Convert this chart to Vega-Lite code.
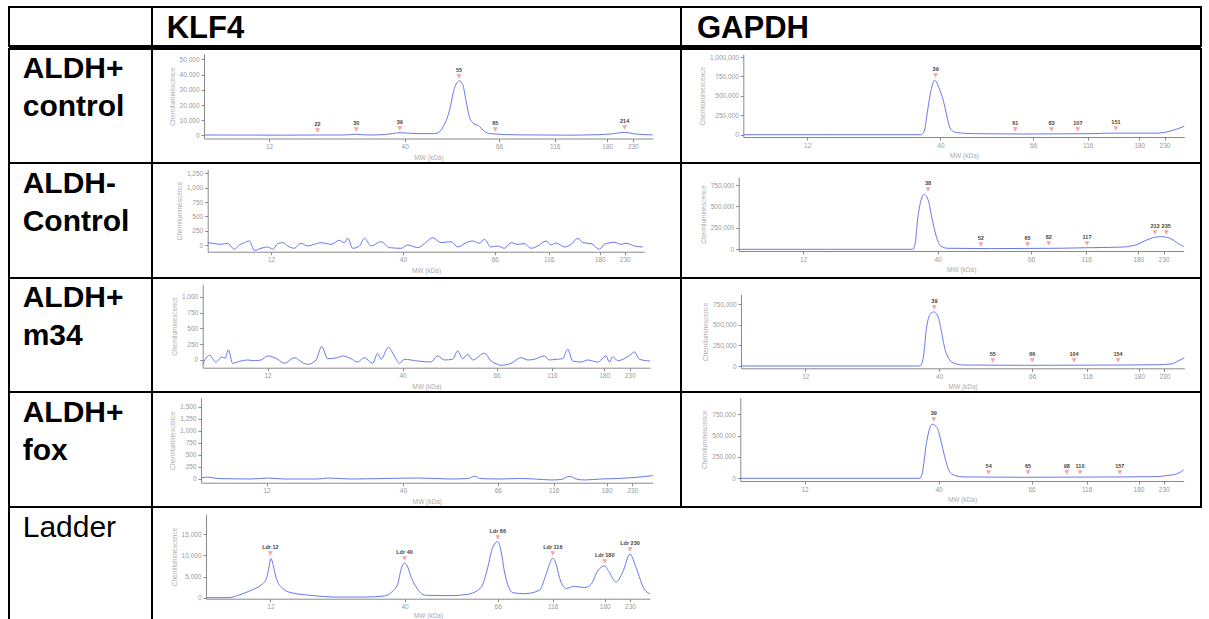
{
  "$schema": "https://vega.github.io/schema/vega-lite/v6.json",
  "padding": {"left": 8, "top": 6, "right": 0, "bottom": 0},
  "columns": 3,
  "spacing": 0,
  "bounds": "flush",
  "align": "each",
  "config": {
    "font": "Liberation Sans",
    "view": {"stroke": "black", "strokeWidth": 2},
    "concat": {"spacing": 0},
    "axis": {
      "grid": false, "domainColor": "#8a8a8a", "tickColor": "#8a8a8a", "tickSize": 3,
      "labelColor": "#9a9a9a", "labelFontSize": 6.5, "labelPadding": 2, "labelFlush": false, "labelOverlap": false,
      "titleColor": "#ababab", "titleFontSize": 6.5, "titleFontWeight": "normal", "titlePadding": 4,
      "labelFont": "Liberation Sans", "titleFont": "Liberation Sans"
    }
  },
  "datasets": {
    "k1": [
      {"mw": 2, "v": 300}, {"mw": 15.2, "v": 200}, {"mw": 22.2, "v": 300}, {"mw": 27.5, "v": 300}, {"mw": 29.8, "v": 800},
      {"mw": 32.4, "v": 300}, {"mw": 35.8, "v": 600}, {"mw": 39.2, "v": 1800}, {"mw": 43.6, "v": 1200}, {"mw": 48.2, "v": 1200},
      {"mw": 50.0, "v": 3500}, {"mw": 50.9, "v": 7000}, {"mw": 52.3, "v": 16000}, {"mw": 53.7, "v": 31000}, {"mw": 55.1, "v": 35900},
      {"mw": 56.0, "v": 33500}, {"mw": 56.9, "v": 23000}, {"mw": 57.8, "v": 12500}, {"mw": 58.7, "v": 8500}, {"mw": 60.6, "v": 6000},
      {"mw": 61.9, "v": 2800}, {"mw": 63.8, "v": 1100}, {"mw": 82.8, "v": 400}, {"mw": 131.9, "v": 200}, {"mw": 168.4, "v": 500},
      {"mw": 187.5, "v": 1000}, {"mw": 213.3, "v": 2000}, {"mw": 239.8, "v": 800}, {"mw": 269.4, "v": 400}
    ],
    "k1p": [
      {"mw": 22, "v": 300, "lab": "22"}, {"mw": 30, "v": 800, "lab": "30"}, {"mw": 39, "v": 1800, "lab": "39"},
      {"mw": 55, "v": 35900, "lab": "55"}, {"mw": 65, "v": 700, "lab": "65"}, {"mw": 214, "v": 2000, "lab": "214"}
    ],
    "k2": [
      {"mw": 2.0, "v": 46}, {"mw": 3.05, "v": 29}, {"mw": 4.1, "v": 17}, {"mw": 5.16, "v": 35}, {"mw": 6.21, "v": -69},
      {"mw": 7.0, "v": 6}, {"mw": 7.79, "v": 46}, {"mw": 8.58, "v": 75}, {"mw": 9.37, "v": -87}, {"mw": 10.43, "v": -52},
      {"mw": 11.48, "v": -29}, {"mw": 12.36, "v": -69}, {"mw": 13.42, "v": 29}, {"mw": 14.48, "v": 46}, {"mw": 15.55, "v": -12},
      {"mw": 16.96, "v": -52}, {"mw": 18.38, "v": 35}, {"mw": 19.79, "v": -12}, {"mw": 21.21, "v": 17}, {"mw": 22.63, "v": 46},
      {"mw": 24.75, "v": 17}, {"mw": 26.52, "v": 87}, {"mw": 27.58, "v": 46}, {"mw": 28.3, "v": 121}, {"mw": 29.35, "v": -52},
      {"mw": 30.77, "v": -12}, {"mw": 31.83, "v": 121}, {"mw": 33.25, "v": -12}, {"mw": 35.37, "v": 63}, {"mw": 37.14, "v": -40},
      {"mw": 39.62, "v": -52}, {"mw": 41.37, "v": 6}, {"mw": 44.21, "v": -40}, {"mw": 46.1, "v": 29}, {"mw": 48.48, "v": 133},
      {"mw": 50.84, "v": 46}, {"mw": 53.68, "v": 63}, {"mw": 55.57, "v": -29}, {"mw": 57.93, "v": 46}, {"mw": 59.83, "v": 75},
      {"mw": 61.71, "v": 35}, {"mw": 63.13, "v": 104}, {"mw": 65.02, "v": -29}, {"mw": 68.9, "v": -12}, {"mw": 75.1, "v": -52},
      {"mw": 81.3, "v": 46}, {"mw": 87.4, "v": 17}, {"mw": 93.6, "v": 29}, {"mw": 99.7, "v": -52}, {"mw": 105.9, "v": -12},
      {"mw": 113.6, "v": 75}, {"mw": 119.0, "v": 6}, {"mw": 125.3, "v": 40}, {"mw": 135.7, "v": -29}, {"mw": 144.1, "v": 17},
      {"mw": 152.5, "v": 121}, {"mw": 158.7, "v": 46}, {"mw": 169.1, "v": 29}, {"mw": 179.5, "v": -69}, {"mw": 189.2, "v": 17},
      {"mw": 209.3, "v": 52}, {"mw": 222.7, "v": 17}, {"mw": 232.8, "v": 35}, {"mw": 250.0, "v": -12}, {"mw": 266.6, "v": -29}
    ],
    "k3": [
      {"mw": 2.0, "v": -69}, {"mw": 3.03, "v": 75}, {"mw": 4.06, "v": -32}, {"mw": 4.93, "v": 48}, {"mw": 5.44, "v": 27},
      {"mw": 5.96, "v": 160}, {"mw": 6.63, "v": -53}, {"mw": 7.66, "v": -21}, {"mw": 8.94, "v": 0}, {"mw": 9.97, "v": -11},
      {"mw": 11.0, "v": 0}, {"mw": 12.03, "v": 64}, {"mw": 14.1, "v": 11}, {"mw": 15.49, "v": -53}, {"mw": 17.55, "v": 37},
      {"mw": 19.28, "v": -42}, {"mw": 20.32, "v": -69}, {"mw": 22.05, "v": 0}, {"mw": 23.22, "v": 213}, {"mw": 24.46, "v": 21},
      {"mw": 26.54, "v": 37}, {"mw": 27.58, "v": 64}, {"mw": 29.3, "v": 21}, {"mw": 30.68, "v": -32}, {"mw": 32.06, "v": 37},
      {"mw": 33.79, "v": -53}, {"mw": 34.83, "v": 106}, {"mw": 35.52, "v": 11}, {"mw": 37.04, "v": 200}, {"mw": 38.29, "v": 64},
      {"mw": 39.32, "v": -53}, {"mw": 40.47, "v": 11}, {"mw": 44.16, "v": -16}, {"mw": 47.85, "v": -32}, {"mw": 49.69, "v": 64},
      {"mw": 51.54, "v": 0}, {"mw": 53.86, "v": 11}, {"mw": 55.23, "v": 144}, {"mw": 56.62, "v": 21}, {"mw": 58.0, "v": 90},
      {"mw": 59.39, "v": 0}, {"mw": 62.63, "v": 106}, {"mw": 64.47, "v": -16}, {"mw": 67.0, "v": -69}, {"mw": 70.0, "v": -85},
      {"mw": 79.0, "v": -53}, {"mw": 88.0, "v": 37}, {"mw": 94.0, "v": 0}, {"mw": 100.0, "v": 11}, {"mw": 109.0, "v": 64},
      {"mw": 113.6, "v": 0}, {"mw": 120.9, "v": 11}, {"mw": 129.0, "v": 21}, {"mw": 135.2, "v": 170}, {"mw": 141.2, "v": -16},
      {"mw": 151.4, "v": -32}, {"mw": 159.6, "v": 0}, {"mw": 171.8, "v": -32}, {"mw": 183.2, "v": 64}, {"mw": 189.7, "v": -32},
      {"mw": 196.2, "v": 53}, {"mw": 206.1, "v": -11}, {"mw": 222.4, "v": 37}, {"mw": 232.3, "v": 90}, {"mw": 238.9, "v": 128},
      {"mw": 248.9, "v": 11}, {"mw": 270, "v": -16}
    ],
    "k4": [
      {"mw": 2, "v": 20}, {"mw": 3.02, "v": 40}, {"mw": 4.55, "v": 10}, {"mw": 9.64, "v": 0}, {"mw": 12.23, "v": 20},
      {"mw": 15.66, "v": 0}, {"mw": 22.5, "v": 0}, {"mw": 24.55, "v": 20}, {"mw": 29.34, "v": 0}, {"mw": 36.18, "v": 10},
      {"mw": 44.06, "v": 20}, {"mw": 53.2, "v": 0}, {"mw": 57.77, "v": 10}, {"mw": 59.78, "v": 60}, {"mw": 60.96, "v": 10},
      {"mw": 68.9, "v": 0}, {"mw": 83.8, "v": 10}, {"mw": 98.6, "v": 0}, {"mw": 113.5, "v": -20}, {"mw": 124.8, "v": -10},
      {"mw": 134.9, "v": 55}, {"mw": 143.0, "v": 0}, {"mw": 153.1, "v": -20}, {"mw": 173.3, "v": 0}, {"mw": 201.6, "v": 10},
      {"mw": 233.5, "v": 30}, {"mw": 270, "v": 70}
    ],
    "lad": [
      {"mw": 2, "v": 0}, {"mw": 5.37, "v": 0}, {"mw": 7.44, "v": 800}, {"mw": 8.99, "v": 1750}, {"mw": 10.54, "v": 3000},
      {"mw": 11.32, "v": 4300}, {"mw": 11.7, "v": 6500}, {"mw": 12.1, "v": 9300}, {"mw": 12.6, "v": 7600}, {"mw": 13.17, "v": 4800},
      {"mw": 14.56, "v": 2200}, {"mw": 16.3, "v": 1200}, {"mw": 20.48, "v": 550}, {"mw": 26.05, "v": 150}, {"mw": 31.62, "v": 150},
      {"mw": 35.8, "v": 400}, {"mw": 37.19, "v": 1200}, {"mw": 38.58, "v": 3200}, {"mw": 39.3, "v": 6800}, {"mw": 40, "v": 8200},
      {"mw": 40.9, "v": 7300}, {"mw": 41.8, "v": 5000}, {"mw": 43.68, "v": 2000}, {"mw": 45.54, "v": 600}, {"mw": 52.97, "v": 480},
      {"mw": 57.62, "v": 800}, {"mw": 61.34, "v": 2400}, {"mw": 63.2, "v": 7100}, {"mw": 64.59, "v": 11900}, {"mw": 66, "v": 13300},
      {"mw": 69.0, "v": 11100}, {"mw": 72.0, "v": 6350}, {"mw": 75.0, "v": 3200}, {"mw": 79.6, "v": 1200}, {"mw": 90.2, "v": 950},
      {"mw": 103.8, "v": 1750}, {"mw": 109.9, "v": 5560}, {"mw": 113.0, "v": 7940}, {"mw": 116, "v": 9370}, {"mw": 120.1, "v": 7940},
      {"mw": 124.2, "v": 4800}, {"mw": 132.4, "v": 2200}, {"mw": 142.7, "v": 2700}, {"mw": 155.0, "v": 2400}, {"mw": 163.2, "v": 3200},
      {"mw": 171.4, "v": 6350}, {"mw": 180, "v": 7540}, {"mw": 189.1, "v": 6000}, {"mw": 202.3, "v": 3700}, {"mw": 215.4, "v": 6000},
      {"mw": 230, "v": 10300}, {"mw": 242.0, "v": 7150}, {"mw": 258.6, "v": 2000}, {"mw": 270, "v": 950}
    ],
    "ladp": [
      {"mw": 12, "v": 9300, "lab": "Ldr 12"}, {"mw": 40, "v": 8200, "lab": "Ldr 40"}, {"mw": 66, "v": 13300, "lab": "Ldr 66"},
      {"mw": 116, "v": 9400, "lab": "Ldr 116"}, {"mw": 180, "v": 7540, "lab": "Ldr 180"}, {"mw": 230, "v": 10300, "lab": "Ldr 230"}
    ],
    "g1": [
      {"mw": 2, "v": 0}, {"mw": 15.6, "v": 0}, {"mw": 29.6, "v": 0}, {"mw": 35.9, "v": 0}, {"mw": 36.6, "v": 47000},
      {"mw": 37.3, "v": 306000}, {"mw": 38.0, "v": 565000}, {"mw": 38.8, "v": 702000}, {"mw": 39.8, "v": 586000}, {"mw": 40.6, "v": 478000},
      {"mw": 41.5, "v": 306000}, {"mw": 42.5, "v": 112000}, {"mw": 43.4, "v": 47000}, {"mw": 44.8, "v": 26000}, {"mw": 49.5, "v": 13000},
      {"mw": 63.5, "v": 9000}, {"mw": 120.0, "v": 13000}, {"mw": 140.7, "v": 20000}, {"mw": 216.6, "v": 20000}, {"mw": 236.4, "v": 39000},
      {"mw": 253.2, "v": 69000}, {"mw": 270, "v": 108000}
    ],
    "g1p": [
      {"mw": 39, "v": 702000, "lab": "39"}, {"mw": 61, "v": 9000, "lab": "61"}, {"mw": 83, "v": 10000, "lab": "83"},
      {"mw": 107, "v": 12000, "lab": "107"}, {"mw": 151, "v": 16000, "lab": "151"}
    ],
    "g2": [
      {"mw": 2, "v": 0}, {"mw": 16.4, "v": 0}, {"mw": 34.8, "v": 0}, {"mw": 35.3, "v": 58000}, {"mw": 35.8, "v": 330000},
      {"mw": 36.5, "v": 564000}, {"mw": 37.2, "v": 641000}, {"mw": 38.1, "v": 564000}, {"mw": 38.8, "v": 369000}, {"mw": 39.7, "v": 156000},
      {"mw": 40.8, "v": 39000}, {"mw": 42.8, "v": 12000}, {"mw": 54.9, "v": 8000}, {"mw": 90.2, "v": 12000}, {"mw": 122.0, "v": 19000},
      {"mw": 163.0, "v": 27000}, {"mw": 171.1, "v": 39000}, {"mw": 179.2, "v": 58000}, {"mw": 191.9, "v": 97000}, {"mw": 212.5, "v": 140000},
      {"mw": 225.6, "v": 148000}, {"mw": 238.0, "v": 138000}, {"mw": 251.3, "v": 100000}, {"mw": 261.0, "v": 60000}, {"mw": 270, "v": 35000}
    ],
    "g2p": [
      {"mw": 38, "v": 641000, "lab": "38"}, {"mw": 52, "v": 8000, "lab": "52"}, {"mw": 65, "v": 9000, "lab": "65"},
      {"mw": 82, "v": 11000, "lab": "82"}, {"mw": 117, "v": 17000, "lab": "117"}, {"mw": 213, "v": 140000, "lab": "213"},
      {"mw": 235, "v": 140000, "lab": "235"}
    ],
    "g3": [
      {"mw": 2, "v": 0}, {"mw": 35.9, "v": 0}, {"mw": 36.6, "v": 81000}, {"mw": 37.4, "v": 486000}, {"mw": 38.3, "v": 640000},
      {"mw": 38.8, "v": 656000}, {"mw": 39.7, "v": 608000}, {"mw": 40.5, "v": 446000}, {"mw": 41.4, "v": 243000}, {"mw": 42.8, "v": 81000},
      {"mw": 44.2, "v": 32000}, {"mw": 47.0, "v": 12000}, {"mw": 63.8, "v": 8000}, {"mw": 161.9, "v": 12000}, {"mw": 217.8, "v": 16000},
      {"mw": 243.3, "v": 24000}, {"mw": 256.7, "v": 57000}, {"mw": 270, "v": 101000}
    ],
    "g3p": [
      {"mw": 39, "v": 656000, "lab": "39"}, {"mw": 55, "v": 9000, "lab": "55"}, {"mw": 66, "v": 9000, "lab": "66"},
      {"mw": 104, "v": 11000, "lab": "104"}, {"mw": 154, "v": 13000, "lab": "154"}
    ],
    "g4": [
      {"mw": 2, "v": 0}, {"mw": 36.1, "v": 0}, {"mw": 36.6, "v": 59000}, {"mw": 37.5, "v": 418000}, {"mw": 38.2, "v": 594000},
      {"mw": 38.7, "v": 633000}, {"mw": 39.7, "v": 594000}, {"mw": 40.7, "v": 437000}, {"mw": 41.8, "v": 242000}, {"mw": 43.0, "v": 86000},
      {"mw": 44.4, "v": 35000}, {"mw": 47.2, "v": 16000}, {"mw": 64.0, "v": 12000}, {"mw": 162.7, "v": 16000}, {"mw": 219.0, "v": 20000},
      {"mw": 238.0, "v": 35000}, {"mw": 251.3, "v": 43000}, {"mw": 270, "v": 98000}
    ],
    "g4p": [
      {"mw": 39, "v": 633000, "lab": "39"}, {"mw": 54, "v": 10000, "lab": "54"}, {"mw": 65, "v": 10000, "lab": "65"},
      {"mw": 98, "v": 11000, "lab": "98"}, {"mw": 110, "v": 11000, "lab": "110"}, {"mw": 157, "v": 14000, "lab": "157"}
    ]
  },
  "concat": [
    {"width": 143, "height": 39, "view": {"stroke": "black", "strokeWidth": 2}, "data": {"values": [{"t": ""}]}, "mark": {"type": "text"}, "encoding": {"text": {"field": "t"}}},
    {"width": 529, "height": 39, "view": {"stroke": "black", "strokeWidth": 2}, "data": {"values": [{"t": "KLF4"}]},
     "mark": {"type": "text", "align": "left", "baseline": "alphabetic", "dx": -249.8, "dy": 11.5, "fontSize": 31, "fontWeight": "bold", "color": "black"},
     "encoding": {"text": {"field": "t"}}},
    {"width": 520, "height": 39, "view": {"stroke": "black", "strokeWidth": 2}, "data": {"values": [{"t": "GAPDH"}]},
     "mark": {"type": "text", "align": "left", "baseline": "alphabetic", "dx": -244, "dy": 11.5, "fontSize": 31, "fontWeight": "bold", "color": "black"},
     "encoding": {"text": {"field": "t"}}},

    {"width": 143, "height": 3, "view": {"fill": "black", "stroke": null}, "data": {"values": [{"t": ""}]}, "mark": {"type": "text"}, "encoding": {"text": {"field": "t"}}},
    {"width": 529, "height": 3, "view": {"fill": "black", "stroke": null}, "data": {"values": [{"t": ""}]}, "mark": {"type": "text"}, "encoding": {"text": {"field": "t"}}},
    {"width": 520, "height": 3, "view": {"fill": "black", "stroke": null}, "data": {"values": [{"t": ""}]}, "mark": {"type": "text"}, "encoding": {"text": {"field": "t"}}},

    {"width": 143, "height": 114, "view": {"stroke": "black", "strokeWidth": 2}, "data": {"values": [{"t": "ALDH+\ncontrol"}]},
     "mark": {"type": "text", "align": "left", "baseline": "alphabetic", "dx": -57.8, "dy": -27.7, "fontSize": 30, "fontWeight": "bold", "lineBreak": "\n", "lineHeight": 38, "color": "black"},
     "encoding": {"text": {"field": "t"}}},
    {"width": 529, "height": 114, "view": {"stroke": "black", "strokeWidth": 2},
     "encoding": {
       "x": {"field": "mw", "type": "quantitative", "scale": {"domain": [2, 12, 40, 66, 116, 180, 230, 270], "range": [52, 117.1, 252.7, 347.0, 402.7, 455.2, 480.8, 501], "nice": false, "zero": false},
             "axis": {"values": [12, 40, 66, 116, 180, 230], "offset": -24.5, "title": "MW (kDa)"}},
       "y": {"field": "v", "type": "quantitative", "scale": {"domain": [-2000, 53800], "range": [89.5, 4.7], "nice": false, "zero": false},
             "axis": {"values": [0, 10000, 20000, 30000, 40000, 50000], "format": ",.0f", "offset": -52, "title": "Chemiluminescence"}}
     },
     "layer": [
       {"data": {"name": "k1"}, "mark": {"type": "line", "color": "#6878ee", "strokeWidth": 1, "interpolate": "monotone"}},
       {"data": {"name": "k1p"}, "mark": {"type": "text", "text": "▼", "fontSize": 6, "baseline": "bottom", "dy": -2, "color": "#f5a3a3", "font": "DejaVu Sans"}},
       {"data": {"name": "k1p"}, "mark": {"type": "text", "fontSize": 5.5, "fontWeight": "bold", "baseline": "alphabetic", "dy": -9, "color": "#444"}, "encoding": {"text": {"field": "lab"}}}
     ]},
    {"width": 520, "height": 114, "view": {"stroke": "black", "strokeWidth": 2},
     "encoding": {
       "x": {"field": "mw", "type": "quantitative", "scale": {"domain": [2, 12, 40, 66, 116, 180, 230, 270], "range": [62.3, 126.2, 259.4, 352.0, 406.7, 458.3, 483.5, 503.3], "nice": false, "zero": false},
             "axis": {"values": [12, 40, 66, 116, 180, 230], "offset": -26, "title": "MW (kDa)"}},
       "y": {"field": "v", "type": "quantitative", "scale": {"domain": [-29600, 1036000], "range": [88, 5.3], "nice": false, "zero": false},
             "axis": {"values": [0, 250000, 500000, 750000, 1000000], "format": ",.0f", "offset": -62.3, "title": "Chemiluminescence"}}
     },
     "layer": [
       {"data": {"name": "g1"}, "mark": {"type": "line", "color": "#6878ee", "strokeWidth": 1, "interpolate": "monotone"}},
       {"data": {"name": "g1p"}, "mark": {"type": "text", "text": "▼", "fontSize": 6, "baseline": "bottom", "dy": -2, "color": "#f5a3a3", "font": "DejaVu Sans"}},
       {"data": {"name": "g1p"}, "mark": {"type": "text", "fontSize": 5.5, "fontWeight": "bold", "baseline": "alphabetic", "dy": -9, "color": "#444"}, "encoding": {"text": {"field": "lab"}}}
     ]},

    {"width": 143, "height": 115, "view": {"stroke": "black", "strokeWidth": 2}, "data": {"values": [{"t": "ALDH-\nControl"}]},
     "mark": {"type": "text", "align": "left", "baseline": "alphabetic", "dx": -57.8, "dy": -27.5, "fontSize": 30, "fontWeight": "bold", "lineBreak": "\n", "lineHeight": 38, "color": "black"},
     "encoding": {"text": {"field": "t"}}},
    {"width": 529, "height": 115, "view": {"stroke": "black", "strokeWidth": 2},
     "encoding": {
       "x": {"field": "mw", "type": "quantitative", "scale": {"domain": [2, 12, 40, 66, 116, 180, 230, 270], "range": [55.7, 119.0, 250.9, 342.5, 396.7, 447.8, 472.7, 492.3], "nice": false, "zero": false},
             "axis": {"values": [12, 40, 66, 116, 180, 230], "offset": -26.3, "title": "MW (kDa)"}},
       "y": {"field": "v", "type": "quantitative", "scale": {"domain": [-111, 1319], "range": [88.7, 6.3], "nice": false, "zero": false},
             "axis": {"values": [0, 250, 500, 750, 1000, 1250], "format": ",.0f", "offset": -55.7, "title": "Chemiluminescence"}}
     },
     "layer": [
       {"data": {"name": "k2"}, "mark": {"type": "line", "color": "#6878ee", "strokeWidth": 1, "interpolate": "monotone"}}
     ]},
    {"width": 520, "height": 115, "view": {"stroke": "black", "strokeWidth": 2},
     "encoding": {
       "x": {"field": "mw", "type": "quantitative", "scale": {"domain": [2, 12, 40, 66, 116, 180, 230, 270], "range": [57.7, 122.2, 256.6, 350.1, 405.2, 457.3, 482.7, 502.7], "nice": false, "zero": false},
             "axis": {"values": [12, 40, 66, 116, 180, 230], "offset": -27, "title": "MW (kDa)"}},
       "y": {"field": "v", "type": "quantitative", "scale": {"domain": [-19800, 843600], "range": [88, 14], "nice": false, "zero": false},
             "axis": {"values": [0, 250000, 500000, 750000], "format": ",.0f", "offset": -57.7, "title": "Chemiluminescence"}}
     },
     "layer": [
       {"data": {"name": "g2"}, "mark": {"type": "line", "color": "#6878ee", "strokeWidth": 1, "interpolate": "monotone"}},
       {"data": {"name": "g2p"}, "mark": {"type": "text", "text": "▼", "fontSize": 6, "baseline": "bottom", "dy": -2, "color": "#f5a3a3", "font": "DejaVu Sans"}},
       {"data": {"name": "g2p"}, "mark": {"type": "text", "fontSize": 5.5, "fontWeight": "bold", "baseline": "alphabetic", "dy": -9, "color": "#444"}, "encoding": {"text": {"field": "lab"}}}
     ]},

    {"width": 143, "height": 114, "view": {"stroke": "black", "strokeWidth": 2}, "data": {"values": [{"t": "ALDH+\nm34"}]},
     "mark": {"type": "text", "align": "left", "baseline": "alphabetic", "dx": -57.8, "dy": -27.7, "fontSize": 30, "fontWeight": "bold", "lineBreak": "\n", "lineHeight": 38, "color": "black"},
     "encoding": {"text": {"field": "t"}}},
    {"width": 529, "height": 114, "view": {"stroke": "black", "strokeWidth": 2},
     "encoding": {
       "x": {"field": "mw", "type": "quantitative", "scale": {"domain": [2, 12, 40, 66, 116, 180, 230, 270], "range": [50.7, 115.6, 250.6, 344.6, 400.0, 452.4, 477.9, 498], "nice": false, "zero": false},
             "axis": {"values": [12, 40, 66, 116, 180, 230], "offset": -24.3, "title": "MW (kDa)"}},
       "y": {"field": "v", "type": "quantitative", "scale": {"domain": [-122, 1198], "range": [89.7, 6.3], "nice": false, "zero": false},
             "axis": {"values": [0, 250, 500, 750, 1000], "format": ",.0f", "offset": -50.7, "title": "Chemiluminescence"}}
     },
     "layer": [
       {"data": {"name": "k3"}, "mark": {"type": "line", "color": "#6878ee", "strokeWidth": 1, "interpolate": "monotone"}}
     ]},
    {"width": 520, "height": 114, "view": {"stroke": "black", "strokeWidth": 2},
     "encoding": {
       "x": {"field": "mw", "type": "quantitative", "scale": {"domain": [2, 12, 40, 66, 116, 180, 230, 270], "range": [60, 124.3, 258.2, 351.2, 406.2, 458.1, 483.4, 503.3], "nice": false, "zero": false},
             "axis": {"values": [12, 40, 66, 116, 180, 230], "offset": -23.7, "title": "MW (kDa)"}},
       "y": {"field": "v", "type": "quantitative", "scale": {"domain": [-27900, 870000], "range": [90.3, 16.3], "nice": false, "zero": false},
             "axis": {"values": [0, 250000, 500000, 750000], "format": ",.0f", "offset": -60, "title": "Chemiluminescence"}}
     },
     "layer": [
       {"data": {"name": "g3"}, "mark": {"type": "line", "color": "#6878ee", "strokeWidth": 1, "interpolate": "monotone"}},
       {"data": {"name": "g3p"}, "mark": {"type": "text", "text": "▼", "fontSize": 6, "baseline": "bottom", "dy": -2, "color": "#f5a3a3", "font": "DejaVu Sans"}},
       {"data": {"name": "g3p"}, "mark": {"type": "text", "fontSize": 5.5, "fontWeight": "bold", "baseline": "alphabetic", "dy": -9, "color": "#444"}, "encoding": {"text": {"field": "lab"}}}
     ]},

    {"width": 143, "height": 115, "view": {"stroke": "black", "strokeWidth": 2}, "data": {"values": [{"t": "ALDH+\nfox"}]},
     "mark": {"type": "text", "align": "left", "baseline": "alphabetic", "dx": -57.8, "dy": -27.5, "fontSize": 30, "fontWeight": "bold", "lineBreak": "\n", "lineHeight": 38, "color": "black"},
     "encoding": {"text": {"field": "t"}}},
    {"width": 529, "height": 115, "view": {"stroke": "black", "strokeWidth": 2},
     "encoding": {
       "x": {"field": "mw", "type": "quantitative", "scale": {"domain": [2, 12, 40, 66, 116, 180, 230, 270], "range": [49, 114.5, 250.9, 345.8, 401.8, 454.6, 480.4, 500.7], "nice": false, "zero": false},
             "axis": {"values": [12, 40, 66, 116, 180, 230], "offset": -24.3, "title": "MW (kDa)"}},
       "y": {"field": "v", "type": "quantitative", "scale": {"domain": [-77, 1687], "range": [90.7, 5.7], "nice": false, "zero": false},
             "axis": {"values": [0, 250, 500, 750, 1000, 1250, 1500], "format": ",.0f", "offset": -49, "title": "Chemiluminescence"}}
     },
     "layer": [
       {"data": {"name": "k4"}, "mark": {"type": "line", "color": "#6878ee", "strokeWidth": 1, "interpolate": "monotone"}}
     ]},
    {"width": 520, "height": 115, "view": {"stroke": "black", "strokeWidth": 2},
     "encoding": {
       "x": {"field": "mw", "type": "quantitative", "scale": {"domain": [2, 12, 40, 66, 116, 180, 230, 270], "range": [59.3, 123.6, 257.5, 350.6, 405.6, 457.5, 482.7, 502.7], "nice": false, "zero": false},
             "axis": {"values": [12, 40, 66, 116, 180, 230], "offset": -26, "title": "MW (kDa)"}},
       "y": {"field": "v", "type": "quantitative", "scale": {"domain": [-31700, 945000], "range": [89, 5.7], "nice": false, "zero": false},
             "axis": {"values": [0, 250000, 500000, 750000], "format": ",.0f", "offset": -59.3, "title": "Chemiluminescence"}}
     },
     "layer": [
       {"data": {"name": "g4"}, "mark": {"type": "line", "color": "#6878ee", "strokeWidth": 1, "interpolate": "monotone"}},
       {"data": {"name": "g4p"}, "mark": {"type": "text", "text": "▼", "fontSize": 6, "baseline": "bottom", "dy": -2, "color": "#f5a3a3", "font": "DejaVu Sans"}},
       {"data": {"name": "g4p"}, "mark": {"type": "text", "fontSize": 5.5, "fontWeight": "bold", "baseline": "alphabetic", "dy": -9, "color": "#444"}, "encoding": {"text": {"field": "lab"}}}
     ]},

    {"width": 143, "height": 115, "view": {"stroke": "black", "strokeWidth": 2}, "data": {"values": [{"t": "Ladder"}]},
     "mark": {"type": "text", "align": "left", "baseline": "alphabetic", "dx": -57.8, "dy": -27.5, "fontSize": 30, "fontWeight": "normal", "color": "black"},
     "encoding": {"text": {"field": "t"}}},
    {"width": 529, "height": 115, "view": {"stroke": null},
     "encoding": {
       "x": {"field": "mw", "type": "quantitative", "scale": {"domain": [2, 12, 40, 66, 116, 180, 230, 270], "range": [54, 118.4, 252.5, 345.7, 400.8, 452.7, 478.0, 498], "nice": false, "zero": false},
             "axis": {"values": [12, 40, 66, 116, 180, 230], "offset": -23.3, "title": "MW (kDa)", "titlePadding": 2}},
       "y": {"field": "v", "type": "quantitative", "scale": {"domain": [-237, 19763], "range": [91.7, 7.3], "nice": false, "zero": false},
             "axis": {"values": [0, 5000, 10000, 15000], "format": ",.0f", "offset": -54, "title": "Chemiluminescence"}}
     },
     "layer": [
       {"data": {"name": "lad"}, "mark": {"type": "line", "color": "#6878ee", "strokeWidth": 1, "interpolate": "monotone"}},
       {"data": {"name": "ladp"}, "mark": {"type": "text", "text": "▼", "fontSize": 6, "baseline": "bottom", "dy": -2, "color": "#f5a3a3", "font": "DejaVu Sans"}},
       {"data": {"name": "ladp"}, "mark": {"type": "text", "fontSize": 5.5, "fontWeight": "bold", "baseline": "alphabetic", "dy": -9, "color": "#444"}, "encoding": {"text": {"field": "lab"}}}
     ]},
    {"width": 520, "height": 115, "view": {"stroke": null}, "data": {"values": [{"t": ""}]}, "mark": {"type": "text"}, "encoding": {"text": {"field": "t"}}}
  ]
}
